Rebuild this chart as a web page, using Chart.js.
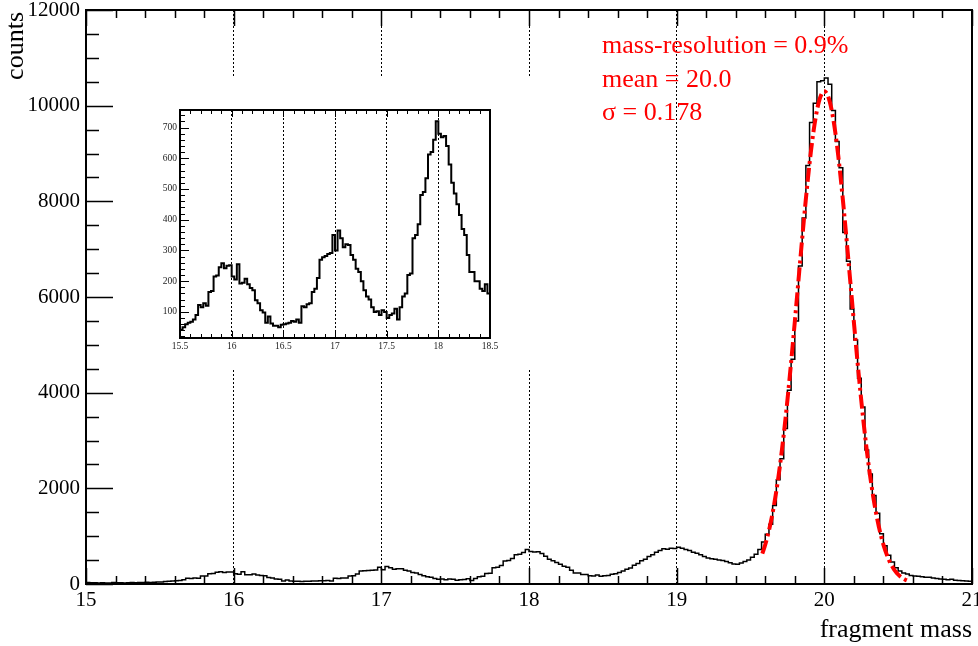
<!DOCTYPE html>
<html>
<head>
<meta charset="utf-8">
<title>fragment mass</title>
<script src="https://cdn.jsdelivr.net/npm/chart.js@4.4.1/dist/chart.umd.min.js"></script>
<style>
  html, body { margin: 0; padding: 0; background: #fff; }
  #wrap { position: relative; width: 978px; height: 646px; overflow: hidden; }
  #main { position: absolute; left: 0; top: 0; }
  #inset { position: absolute; left: 140px; top: 78px; background: #fff; }
</style>
</head>
<body>
<div id="wrap">
  <canvas id="main" width="978" height="646"></canvas>
  <canvas id="inset" width="410" height="292"></canvas>
</div>
<script>
// Histogram binning: 240 bins of 0.025 from 15.0 to 21.0
const binLow = 15.0;
const binWidth = 0.025;

// counts per bin, 15.0 - 15.5
const countsA = [30, 25, 28, 22, 25, 20, 22, 30, 28, 25, 22, 28, 30, 26, 32, 30, 35, 33, 38, 40];

// counts per bin, 15.5 - 18.5 (the zoomed region)
const countsB = [
  42, 50, 60, 65, 68, 75, 90, 122, 115, 128,
  120, 165, 168, 215, 218, 245, 258, 242, 250, 252,
  215, 205, 255, 192, 195, 208, 190, 178, 170, 138,
  128, 105, 98, 65, 85, 62, 55, 55, 50, 58,
  60, 62, 65, 70, 68, 75, 65, 118, 115, 125,
  128, 165, 175, 210, 270, 278, 282, 288, 292, 350,
  300, 365, 340, 310, 320, 318, 285, 270, 240, 230,
  200, 170, 150, 140, 115, 100, 102, 90, 105, 100,
  80, 90, 95, 110, 75, 115, 150, 160, 220, 225,
  340, 350, 385, 480, 490, 535, 612, 620, 660, 720,
  680, 668, 672, 640, 580, 520, 485, 450, 415, 370,
  350, 285, 230, 230, 200, 200, 175, 168, 190, 160
];

// counts per bin, 18.5 - 21.0
const countsC = [
  175, 180, 205, 215, 240, 270, 310, 335, 390, 430,
  485, 520, 575, 610, 665, 700, 735, 725, 745, 740,
  770, 745, 720, 700, 665, 645, 610, 575, 545, 530,
  520, 500, 490, 470, 445, 420, 415, 440, 470, 500,
  560, 620, 720, 880, 1040, 1250, 1640, 2180, 2620, 3250,
  4050, 4700, 5500, 6650, 7650, 8750, 9650, 10050, 10500, 10520,
  10580, 10450, 9900, 9250, 8700, 7350, 6750, 5750, 5100, 4300,
  3700, 2800, 2300, 1850, 1480, 1050, 800, 600, 460, 340,
  270, 230, 210, 180, 165, 160, 150, 140, 140, 125,
  115, 105, 100, 90, 100, 80, 75, 70, 65, 60
];

const xTickLabels = ['15', '16', '17', '18', '19', '20', '21'];
const yTickLabels = ['0', '2000', '4000', '6000', '8000', '10000', '12000'];
const insetXTickLabels = ['15.5', '16', '16.5', '17', '17.5', '18', '18.5'];
const insetYTickLabels = ['100', '200', '300', '400', '500', '600', '700'];

// Gaussian fit result
const fitMean = 20.0;
const fitSigma = 0.178;
const fitAmplitude = 10300;
const fitFrom = 19.58;
const fitTo = 20.56;

const xTitle = 'fragment mass';
const yTitle = 'counts';
const statsLines = ['mass-resolution = 0.9%', 'mean = ' + fitMean.toFixed(1), '\u03c3 = ' + fitSigma.toFixed(3)];

const counts = countsA.concat(countsB, countsC);
const serif = "'Liberation Serif', 'Times New Roman', serif";

// step outline: one point per lower bin edge, plus the closing upper edge
function histPoints(first, last) {
  const pts = [];
  for (let i = first; i < last; i++) {
    pts.push({ x: binLow + i * binWidth, y: counts[i] });
  }
  pts.push({ x: binLow + last * binWidth, y: counts[last - 1] });
  return pts;
}

// fitted Gaussian evaluated over the fit range
function fitPoints(n) {
  const pts = [];
  for (let k = 0; k <= n; k++) {
    const x = fitFrom + (fitTo - fitFrom) * k / n;
    const d = (x - fitMean) / fitSigma;
    pts.push({ x: x, y: fitAmplitude * Math.exp(-0.5 * d * d) });
  }
  return pts;
}

// frame plus inward tick marks on bottom/top and left edges
const frameTicks = {
  id: 'frameTicks',
  afterDatasetsDraw(chart, args, o) {
    const { ctx, chartArea: a } = chart;
    const xs = chart.scales.x, ys = chart.scales.y;
    ctx.save();
    ctx.strokeStyle = '#000';
    ctx.lineWidth = o.tickWidth;
    ctx.beginPath();
    const nx = Math.round((xs.max - xs.min) / o.xMinor);
    for (let k = 0; k <= nx; k++) {
      const px = Math.round(xs.getPixelForValue(xs.min + k * o.xMinor)) + 0.5;
      const len = (k % o.xPerMajor === 0) ? o.xMajorLen : o.xMinorLen;
      ctx.moveTo(px, a.bottom); ctx.lineTo(px, a.bottom - len);
      ctx.moveTo(px, a.top); ctx.lineTo(px, a.top + len);
    }
    const start = Math.ceil(ys.min / o.yMinor) * o.yMinor;
    for (let v = start; v <= ys.max + 1e-6; v += o.yMinor) {
      const py = Math.round(ys.getPixelForValue(v)) + 0.5;
      const len = (Math.round(v) % o.yMajor === 0) ? o.yMajorLen : o.yMinorLen;
      ctx.moveTo(a.left, py); ctx.lineTo(a.left + len, py);
    }
    ctx.stroke();
    ctx.lineWidth = o.frameWidth;
    ctx.strokeRect(a.left, a.top, a.right - a.left, a.bottom - a.top);
    ctx.restore();
  }
};

// axis titles and fit summary
const mainText = {
  id: 'mainText',
  afterDraw(chart) {
    const { ctx, chartArea: a } = chart;
    ctx.save();
    ctx.font = '26px ' + serif;
    ctx.fillStyle = '#000';
    ctx.textBaseline = 'alphabetic';
    ctx.textAlign = 'right';
    ctx.fillText(xTitle, a.right, 637);
    ctx.save();
    ctx.translate(23, a.top + 2);
    ctx.rotate(-Math.PI / 2);
    ctx.fillText(yTitle, 0, 0);
    ctx.restore();
    ctx.textAlign = 'left';
    ctx.fillStyle = '#ff0000';
    statsLines.forEach((s, i) => ctx.fillText(s, 602, 53 + i * 33.5));
    ctx.restore();
  }
};

Chart.register(frameTicks, mainText);

new Chart(document.getElementById('main'), {
  type: 'line',
  data: {
    datasets: [
      {
        label: 'fit',
        data: fitPoints(200),
        borderColor: '#ff0000',
        borderWidth: 4,
        borderDash: [14, 4, 3, 4],
        pointRadius: 0,
        tension: 0,
        fill: false
      },
      {
        label: 'counts',
        data: histPoints(0, counts.length),
        borderColor: '#000',
        borderWidth: 1.5,
        stepped: 'before',
        pointRadius: 0,
        fill: false
      }
    ]
  },
  options: {
    responsive: false,
    animation: false,
    devicePixelRatio: 1,
    layout: { padding: { left: 0, right: 6, top: 10, bottom: 0 } },
    plugins: {
      legend: { display: false },
      tooltip: { enabled: false },
      frameTicks: {
        tickWidth: 1.5, frameWidth: 2,
        xMinor: 0.2, xPerMajor: 5, xMajorLen: 16, xMinorLen: 8,
        yMinor: 500, yMajor: 2000, yMajorLen: 27, yMinorLen: 13
      }
    },
    scales: {
      x: {
        type: 'linear', min: 15, max: 21,
        afterBuildTicks: s => { s.ticks = xTickLabels.map(t => ({ value: Number(t) })); },
        afterFit: s => { s.height = 62; s.paddingLeft = 0; s.paddingRight = 0; },
        ticks: {
          autoSkip: false, maxRotation: 0, padding: 4, color: '#000',
          font: { family: serif, size: 21 },
          callback: (v, i) => xTickLabels[i]
        },
        grid: { display: true, drawOnChartArea: true, drawTicks: false, color: '#000', lineWidth: 1 },
        border: { display: false, dash: [2, 2] }
      },
      y: {
        type: 'linear', min: 0, max: 12000,
        afterBuildTicks: s => { s.ticks = yTickLabels.map(t => ({ value: Number(t) })); },
        afterFit: s => { s.width = 86; s.paddingTop = 0; s.paddingBottom = 0; },
        ticks: {
          autoSkip: false, padding: 6, color: '#000',
          font: { family: serif, size: 21 },
          callback: (v, i) => yTickLabels[i]
        },
        grid: { display: false, drawTicks: false },
        border: { display: false }
      }
    }
  }
});

// zoomed view of 15.5 - 18.5
const insetFirst = Math.round((15.5 - binLow) / binWidth);
const insetLast = Math.round((18.5 - binLow) / binWidth);

new Chart(document.getElementById('inset'), {
  type: 'line',
  data: {
    datasets: [{
      label: 'counts',
      data: histPoints(insetFirst, insetLast),
      borderColor: '#000',
      borderWidth: 2,
      stepped: 'before',
      pointRadius: 0,
      fill: false
    }]
  },
  options: {
    responsive: false,
    animation: false,
    devicePixelRatio: 1,
    layout: { padding: { left: 0, right: 60, top: 32, bottom: 0 } },
    plugins: {
      legend: { display: false },
      tooltip: { enabled: false },
      mainText: false,
      frameTicks: {
        tickWidth: 1, frameWidth: 2,
        xMinor: 0.1, xPerMajor: 5, xMajorLen: 7, xMinorLen: 4,
        yMinor: 20, yMajor: 100, yMajorLen: 9, yMinorLen: 5
      }
    },
    scales: {
      x: {
        type: 'linear', min: 15.5, max: 18.5,
        afterBuildTicks: s => { s.ticks = insetXTickLabels.map(t => ({ value: Number(t) })); },
        afterFit: s => { s.height = 32; s.paddingLeft = 0; s.paddingRight = 0; },
        ticks: {
          autoSkip: false, maxRotation: 0, padding: 3, color: '#222',
          font: { family: serif, size: 9.5 },
          callback: (v, i) => insetXTickLabels[i]
        },
        grid: { display: true, drawOnChartArea: true, drawTicks: false, color: '#000', lineWidth: 1 },
        border: { display: false, dash: [2, 2] }
      },
      y: {
        type: 'linear', min: 15, max: 757,
        afterBuildTicks: s => { s.ticks = insetYTickLabels.map(t => ({ value: Number(t) })); },
        afterFit: s => { s.width = 40; s.paddingTop = 0; s.paddingBottom = 0; },
        ticks: {
          autoSkip: false, padding: 3, color: '#222',
          font: { family: serif, size: 9.5 },
          callback: (v, i) => insetYTickLabels[i]
        },
        grid: { display: false, drawTicks: false },
        border: { display: false }
      }
    }
  }
});
</script>
</body>
</html>
